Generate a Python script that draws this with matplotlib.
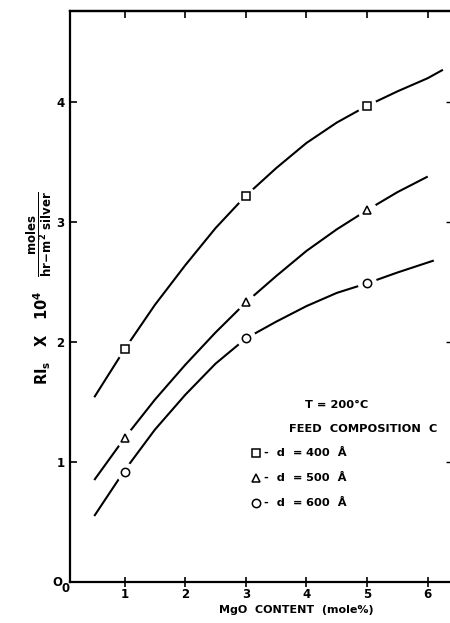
import matplotlib
matplotlib.use("Agg")
import matplotlib.pyplot as plt

plt.rcParams['font.family'] = ['DejaVu Sans']
plt.rcParams['font.weight'] = 'bold'
plt.rcParams['mathtext.fontset'] = 'custom'
plt.rcParams['mathtext.rm'] = 'DejaVu Sans:bold'
plt.rcParams['mathtext.it'] = 'DejaVu Sans:bold'
plt.rcParams['mathtext.bf'] = 'DejaVu Sans:bold'

# measured points (MgO mole %, RI x 1e4)
pt_x = [1, 3, 5]
sq_y = [1.94, 3.22, 3.97]   # d = 400 A
tri_y = [1.20, 2.33, 3.10]  # d = 500 A
circ_y = [0.92, 2.03, 2.49] # d = 600 A

# hand-drawn curves
sq_cx = [0.5, 1.0, 1.5, 2.0, 2.5, 3.0, 3.5, 4.0, 4.5, 5.0, 5.5, 6.0, 6.25]
sq_cy = [1.54, 1.94, 2.31, 2.64, 2.95, 3.22, 3.45, 3.66, 3.83, 3.97, 4.09, 4.20, 4.27]
tri_cx = [0.5, 1.0, 1.5, 2.0, 2.5, 3.0, 3.5, 4.0, 4.5, 5.0, 5.5, 6.0]
tri_cy = [0.85, 1.20, 1.52, 1.81, 2.08, 2.33, 2.55, 2.76, 2.94, 3.10, 3.25, 3.38]
circ_cx = [0.5, 1.0, 1.5, 2.0, 2.5, 3.0, 3.5, 4.0, 4.5, 5.0, 5.5, 6.1]
circ_cy = [0.55, 0.93, 1.27, 1.56, 1.82, 2.03, 2.17, 2.30, 2.41, 2.49, 2.58, 2.68]

xticks = [1, 2, 3, 4, 5, 6]
yticks = [1, 2, 3, 4]

W, H = 450, 623
fig = plt.figure(figsize=(W / 100, H / 100), dpi=100)
ax = fig.add_axes([70 / W, 1 - 582 / H, 382 / W, 571 / H])
ax.set_xlim(0.1, 6.4)
ax.set_ylim(0, 4.76)

lw = 1.5
for cx, cy, px, py, mk in [(sq_cx, sq_cy, pt_x, sq_y, 's'),
                           (tri_cx, tri_cy, pt_x, tri_y, '^'),
                           (circ_cx, circ_cy, pt_x, circ_y, 'o')]:
    ax.plot(cx, cy, color='black', lw=lw, solid_capstyle='butt', zorder=2)
    ax.plot(px, py, linestyle='none', marker='o', ms=13, mfc='white',
            mec='white', zorder=3)
    ax.plot(px, py, linestyle='none', marker=mk, ms=6, mfc='white',
            mec='black', mew=1.1, zorder=4)

ax.spines['right'].set_visible(False)
for s in ['left', 'bottom', 'top']:
    ax.spines[s].set_linewidth(1.6)

ax.set_xticks(xticks)
ax.set_xticklabels([str(v) for v in xticks])
ax.set_yticks(yticks)
ax.set_yticklabels([str(v) for v in yticks])
ax.tick_params(axis='x', direction='inout', length=7, width=1.2,
               labelsize=8.5, pad=1)
ax.tick_params(axis='y', direction='in', length=5, width=1.2,
               labelsize=8.5, pad=4)
for lab in ax.get_xticklabels() + ax.get_yticklabels():
    lab.set_fontweight('bold')

top = ax.secondary_xaxis('top')
top.set_xticks(xticks)
top.tick_params(direction='in', length=5, width=1.2, labeltop=False)
top.spines['top'].set_linewidth(1.6)
right = ax.secondary_yaxis('right')
right.set_yticks(yticks)
right.tick_params(direction='in', length=4, width=1.0, labelright=False)
right.spines['right'].set_visible(False)

# corner zero labels
fig.text(57 / W, 1 - 582 / H, 'O', fontsize=8.5, fontweight='bold',
         ha='center', va='center')
fig.text(66 / W, 1 - 589 / H, '0', fontsize=8.5, fontweight='bold',
         ha='center', va='center')

fig.text(296 / W, 1 - 610 / H, 'MgO  CONTENT  (mole%)', fontsize=8,
         fontweight='bold', ha='center', va='center')

# y label
fig.text(42 / W, 1 - 338 / H, r'RI$_s$   X   10$^4$', rotation=90,
         fontsize=10.5, fontweight='bold', ha='center', va='center')
fig.text(40 / W, 1 - 234 / H,
         r'$\dfrac{\mathrm{moles}}{\mathrm{hr\!-\!m^2\ silver}}$',
         rotation=90, fontsize=8.5, ha='center', va='center')

# annotations
fs = 8.2
fig.text(305 / W, 1 - 405 / H, 'T = 200°C', fontsize=fs, fontweight='bold',
         ha='left', va='center')
fig.text(437 / W, 1 - 429 / H, 'FEED  COMPOSITION  C', fontsize=fs,
         fontweight='bold', ha='right', va='center')
rows = [('s', '400', 453), ('^', '500', 478), ('o', '600', 503)]
for mk, d, yp in rows:
    ax.plot([(256 - 70) / 60.6 + 0.1], [(582 - yp) / 120.0],
            marker=mk, ms=6, mfc='white', mec='black', mew=1.1,
            linestyle='none', clip_on=False)
    fig.text(302 / W, 1 - yp / H, '-  d  =', fontsize=fs,
             fontweight='bold', ha='right', va='center')
    fig.text(306 / W, 1 - yp / H, f'{d}  Å', fontsize=fs,
             fontweight='bold', ha='left', va='center')

fig.savefig('out.png', dpi=100)
